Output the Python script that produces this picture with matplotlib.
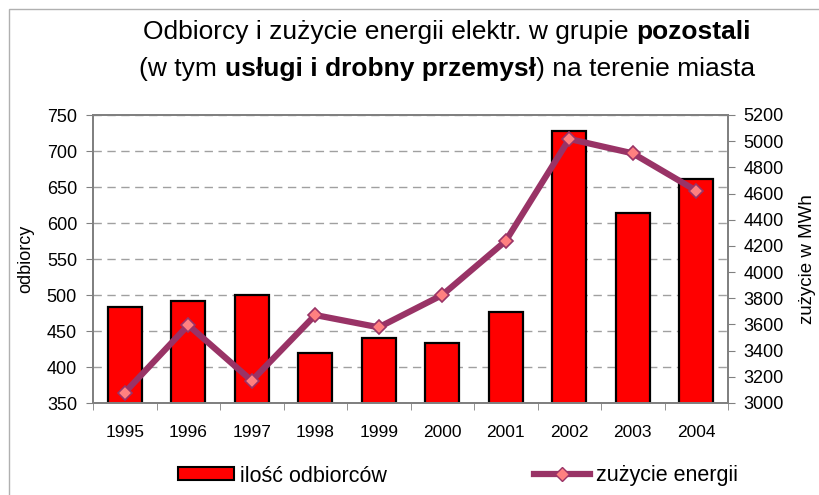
import numpy as np
import matplotlib
matplotlib.use("Agg")
import matplotlib.pyplot as plt
from matplotlib.lines import Line2D
from matplotlib.patches import Patch, Rectangle

plt.rcParams['font.family'] = ['Liberation Sans', 'DejaVu Sans']

years = ['1995', '1996', '1997', '1998', '1999', '2000', '2001', '2002', '2003', '2004']
odbiorcy = [484, 492, 500, 420, 440, 434, 476, 728, 614, 661]
zuzycie = [3080, 3595, 3170, 3672, 3578, 3825, 4238, 5017, 4907, 4622]

W, H = 819, 495
fig = plt.figure(figsize=(W / 100, H / 100), dpi=100)

# light frame around the chart
fig.patches.append(Rectangle((9 / W, -0.05), 1.2, 1 - 9 / H + 0.05, transform=fig.transFigure,
                             fill=False, edgecolor='#b0b0b0', linewidth=1))

ax = fig.add_axes([93 / W, 1 - 403 / H, (728 - 93) / W, (403 - 115) / H])
x = np.arange(len(years))

ax.bar(x, odbiorcy, width=0.54, color='#ff0000', edgecolor='black', linewidth=1.6, zorder=2)
ax.set_ylim(350, 750)
ax.set_yticks(np.arange(350, 751, 50))
ax.set_xlim(-0.5, len(years) - 0.5)
ax.set_xticks(x)
ax.set_xticklabels(years)
ax.set_xticks(np.arange(-0.5, len(years), 1), minor=True)
ax.tick_params(axis='x', which='major', length=0, pad=16, labelsize=12.5)
ax.tick_params(axis='x', which='minor', length=5, color='#808080')
ax.tick_params(axis='y', length=5, color='#808080', labelsize=13, pad=6.5)
ax.yaxis.grid(True, linestyle=(0, (6, 4)), color='#a0a0a0', linewidth=1)
ax.set_axisbelow(True)
for s in ax.spines.values():
    s.set_color('#808080')
    s.set_linewidth(1.3)
ax.set_ylabel('odbiorcy', fontsize=13, labelpad=9)

ax2 = ax.twinx()
ax2.plot(x, zuzycie, color='#993366', linewidth=4.5, marker='D', markersize=7.5,
         markerfacecolor='#ff8080', markeredgecolor='#993366', markeredgewidth=1.2, zorder=3)
ax2.set_ylim(3000, 5200)
ax2.set_yticks(np.arange(3000, 5201, 200))
ax2.tick_params(axis='y', length=5, color='#808080', labelsize=13, pad=6)
for s in ax2.spines.values():
    s.set_color('#808080')
    s.set_linewidth(1.3)
ax2.set_ylabel('zużycie w MWh', fontsize=13.5, labelpad=11)

# legend
handles = [Patch(facecolor='#ff0000', edgecolor='black', linewidth=1.5),
           Line2D([], [], color='#993366', linewidth=4.5, marker='D', markersize=7.5,
                  markerfacecolor='#ff8080', markeredgecolor='#993366')]
fig.legend(handles, ['ilość odbiorców', 'zużycie energii'], loc='center',
           bbox_to_anchor=(458 / W, 1 - 476 / H), ncol=2, frameon=False, fontsize=15.5,
           handlelength=2.6, handleheight=0.55, handletextpad=0.3, columnspacing=6.8)

# title with mixed weights
lines = [[('Odbiorcy i zużycie energii elektr. w grupie ', 'normal'), ('pozostali', 'bold')],
         [('(w tym ', 'normal'), ('usługi i drobny przemysł', 'bold'), (') na terenie miasta', 'normal')]]
baselines = [39, 76]
fig.canvas.draw()
r = fig.canvas.get_renderer()
for segs, yb in zip(lines, baselines):
    texts = [fig.text(0, 1 - yb / H, s, fontsize=19, fontweight=w, va='baseline') for s, w in segs]
    widths = [t.get_window_extent(r).width for t in texts]
    x0 = 447 - sum(widths) / 2
    for t, wd in zip(texts, widths):
        t.set_x(x0 / W)
        x0 += wd

fig.savefig('out.png', dpi=100)
